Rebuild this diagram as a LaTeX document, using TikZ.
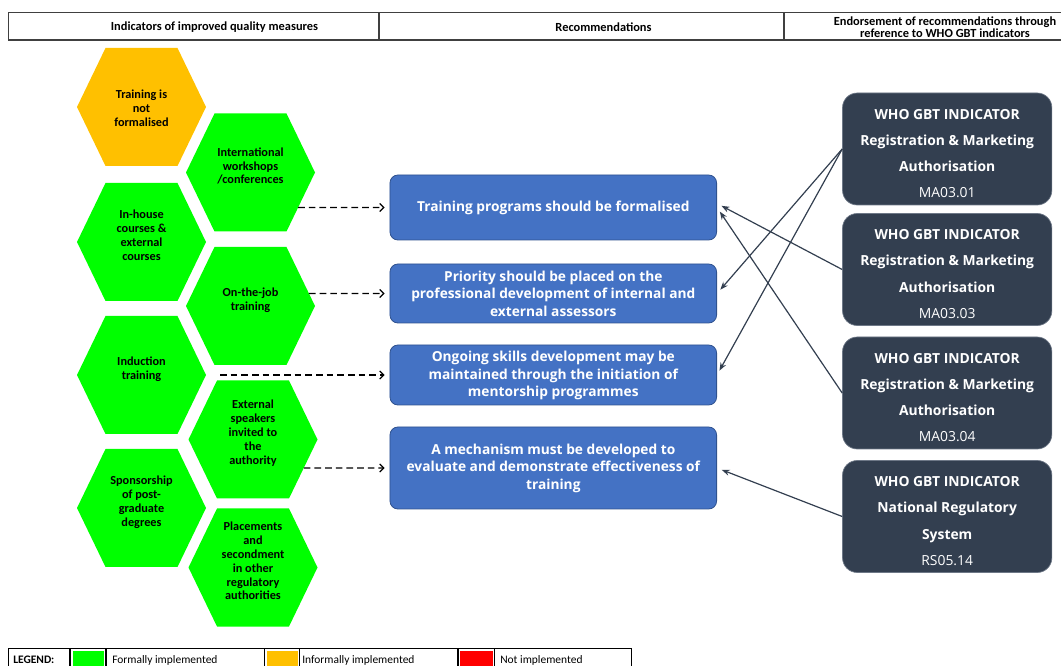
\documentclass[tikz,border=0pt]{standalone}
\usepackage{fontspec}
\setmainfont{Carlito}
\newfontfamily\segoe{Open Sans}
\usetikzlibrary{arrows.meta}

\definecolor{hexgreen}{RGB}{0,255,0}
\definecolor{hexorange}{RGB}{255,192,0}
\definecolor{legred}{RGB}{255,0,0}
\definecolor{recblue}{RGB}{68,114,196}
\definecolor{recedge}{RGB}{47,82,143}
\definecolor{gbtslate}{RGB}{51,63,80}
\definecolor{gbtedge}{RGB}{110,120,135}
\definecolor{rulegray}{RGB}{64,64,64}

% extra room above the first line of an indicator box
\newcommand{\gbttop}{\rule{0pt}{14.5pt}}

\tikzset{
  hextext/.style={font=\bfseries\fontsize{9.2}{10.4}\selectfont, align=center, inner sep=0pt},
  headtext/.style={font=\bfseries\fontsize{9.3}{8}\selectfont, align=center, inner sep=0pt},
  legtext/.style={font=\fontsize{8.6}{9}\selectfont, anchor=west, inner sep=0pt},
  recbox/.style={draw=recedge, fill=recblue, line width=0.6pt, rounded corners=6pt,
    minimum width=245pt, text=white, align=center,
    font=\segoe\bfseries\fontsize{10.3}{13.1}\selectfont},
  gbtbox/.style={draw=gbtedge, fill=gbtslate, line width=0.5pt, rounded corners=11pt,
    minimum width=157pt, minimum height=84pt, text=white, align=center,
    font=\segoe\bfseries\fontsize{10.4}{19.7}\selectfont},
  dasharrow/.style={dash pattern=on 5pt off 3pt, line width=0.9pt,
    -{Straight Barb[length=3pt,width=6pt]}, shorten >=3.75pt},
  gbtarrow/.style={draw=gbtslate, line width=0.9pt,
    -{Stealth[length=6pt,width=4.5pt]}, shorten >=3.75pt},
}

\begin{document}
\begin{tikzpicture}[x=0.75pt,y=-0.75pt]
    \useasboundingbox (0,0) rectangle (1061,666);
    \clip (0,0) rectangle (1061,666);

    % header row
    \draw [rulegray,line width=1pt] (1070,12.3) -- (8.3,12.3) -- (8.3,40) -- (1070,40);
    \draw [rulegray,line width=1pt] (379,12.3) -- (379,40) (784,12.3) -- (784,40);
    \node [headtext] (head1) at (214.5,27.5) {Indicators of improved quality measures};
    \node [headtext] (head2) at (603.5,27.5) {Recommendations};
    \node [headtext] (head3) at (945,27) {Endorsement of recommendations through\\reference to WHO GBT indicators};

    % hexagons
    \foreach \name/\cx/\cy/\ty/\col/\txt in {
        H1/141.5/107/108/hexorange/{Training is\\not\\formalised},
        H2/250.5/172.5/166/hexgreen/{International\\workshops\\{/}conferences},
        H3/141.5/242/235.5/hexgreen/{In-house\\courses \&\\external\\courses},
        H4/250.5/306/300/hexgreen/{On-the-job\\training},
        H5/141.5/375/369/hexgreen/{Induction\\training},
        H6/253/439.5/433/hexgreen/{External\\speakers\\invited to\\the\\authority},
        H7/141.5/508/502/hexgreen/{Sponsorship\\of post-\\graduate\\degrees},
        H8/253/567.5/561/hexgreen/{Placements\\and\\secondment\\in other\\regulatory\\authorities}}
    {
        \fill [\col] (\cx-64.5,\cy) -- (\cx-36,\cy-59) -- (\cx+36,\cy-59) -- (\cx+64.5,\cy)
            -- (\cx+36,\cy+59) -- (\cx-36,\cy+59) -- cycle;
        \coordinate (\name e) at (\cx+64.5,\cy);
        \coordinate (\name ne) at (\cx+36,\cy-59);
        \coordinate (\name se) at (\cx+36,\cy+59);
        \node [hextext] (\name) at (\cx,\ty) {\txt};
    }

    % recommendations
    \node [recbox,minimum height=48.75pt] (R1) at (553.3,207.5) {Training programs should be formalised};
    \node [recbox,minimum height=44.25pt] (R2) at (553.3,293.5)
        {Priority should be placed on the\\professional development of internal and\\external assessors};
    \node [recbox,minimum height=45pt] (R3) at (553.3,375)
        {\rule{0pt}{9pt}Ongoing skills development may be\\maintained through the initiation of\\mentorship programmes};
    \node [recbox,minimum height=61.5pt] (R4) at (553.3,468)
        {A mechanism must be developed to\\evaluate and demonstrate effectiveness of\\training};

    % WHO GBT indicators
    \node [gbtbox] (G1) at (947.2,149) {\gbttop WHO GBT INDICATOR\\Registration \& Marketing\\Authorisation\\\mdseries MA03.01};
    \node [gbtbox] (G2) at (947.2,269.5) {\gbttop WHO GBT INDICATOR\\Registration \& Marketing\\Authorisation\\\mdseries MA03.03};
    \node [gbtbox] (G3) at (947.2,393) {\gbttop WHO GBT INDICATOR\\Registration \& Marketing\\Authorisation\\\mdseries MA03.04};
    \node [gbtbox] (G4) at (947.2,516.5) {\gbttop WHO GBT INDICATOR\\National Regulatory\\System\\\mdseries RS05.14};

    % hexagons to recommendations
    \draw [dasharrow] (intersection of H2e--H2se and R1.west--R1.east) -- (R1.west);
    \draw [dasharrow] (intersection of H4ne--H4e and R2.west--R2.east) -- (R2.west);
    \draw [dasharrow,shorten <=10.5pt] (H5e) -- (R3.west);
    \draw [dasharrow] (intersection of H6e--H6se and R4.west--R4.east) -- (R4.west);

    % indicators to recommendations
    \draw [gbtarrow] (G1.west) -- (R2.east);
    \draw [gbtarrow] (G1.west) -- (R3.east);
    \draw [gbtarrow] (G2.west) -- ([yshift=3pt]R1.east);
    \draw [gbtarrow] (G3.west) -- (R1.east);
    \draw [gbtarrow] (G4.west) -- (R4.east);

    % legend
    \draw [line width=0.8pt] (8.3,680) -- (8.3,648.3) -- (631.7,648.3) -- (631.7,680);
    \foreach \xdiv in {70,106,264.7,299.7,458,494.7}
        \draw [line width=0.8pt] (\xdiv,648.3) -- (\xdiv,680);
    \fill [hexgreen] (72.7,650.5) rectangle (104,680);
    \fill [hexorange] (266.7,650.5) rectangle (297.7,680);
    \fill [legred] (460,650.5) rectangle (492.7,680);
    \node [legtext] (leg0) at (13,660) {\bfseries LEGEND:};
    \node [legtext] (leg1) at (112,660) {Formally implemented};
    \node [legtext] (leg2) at (302,660) {Informally implemented};
    \node [legtext] (leg3) at (500,660) {Not implemented};
\end{tikzpicture}
\end{document}
